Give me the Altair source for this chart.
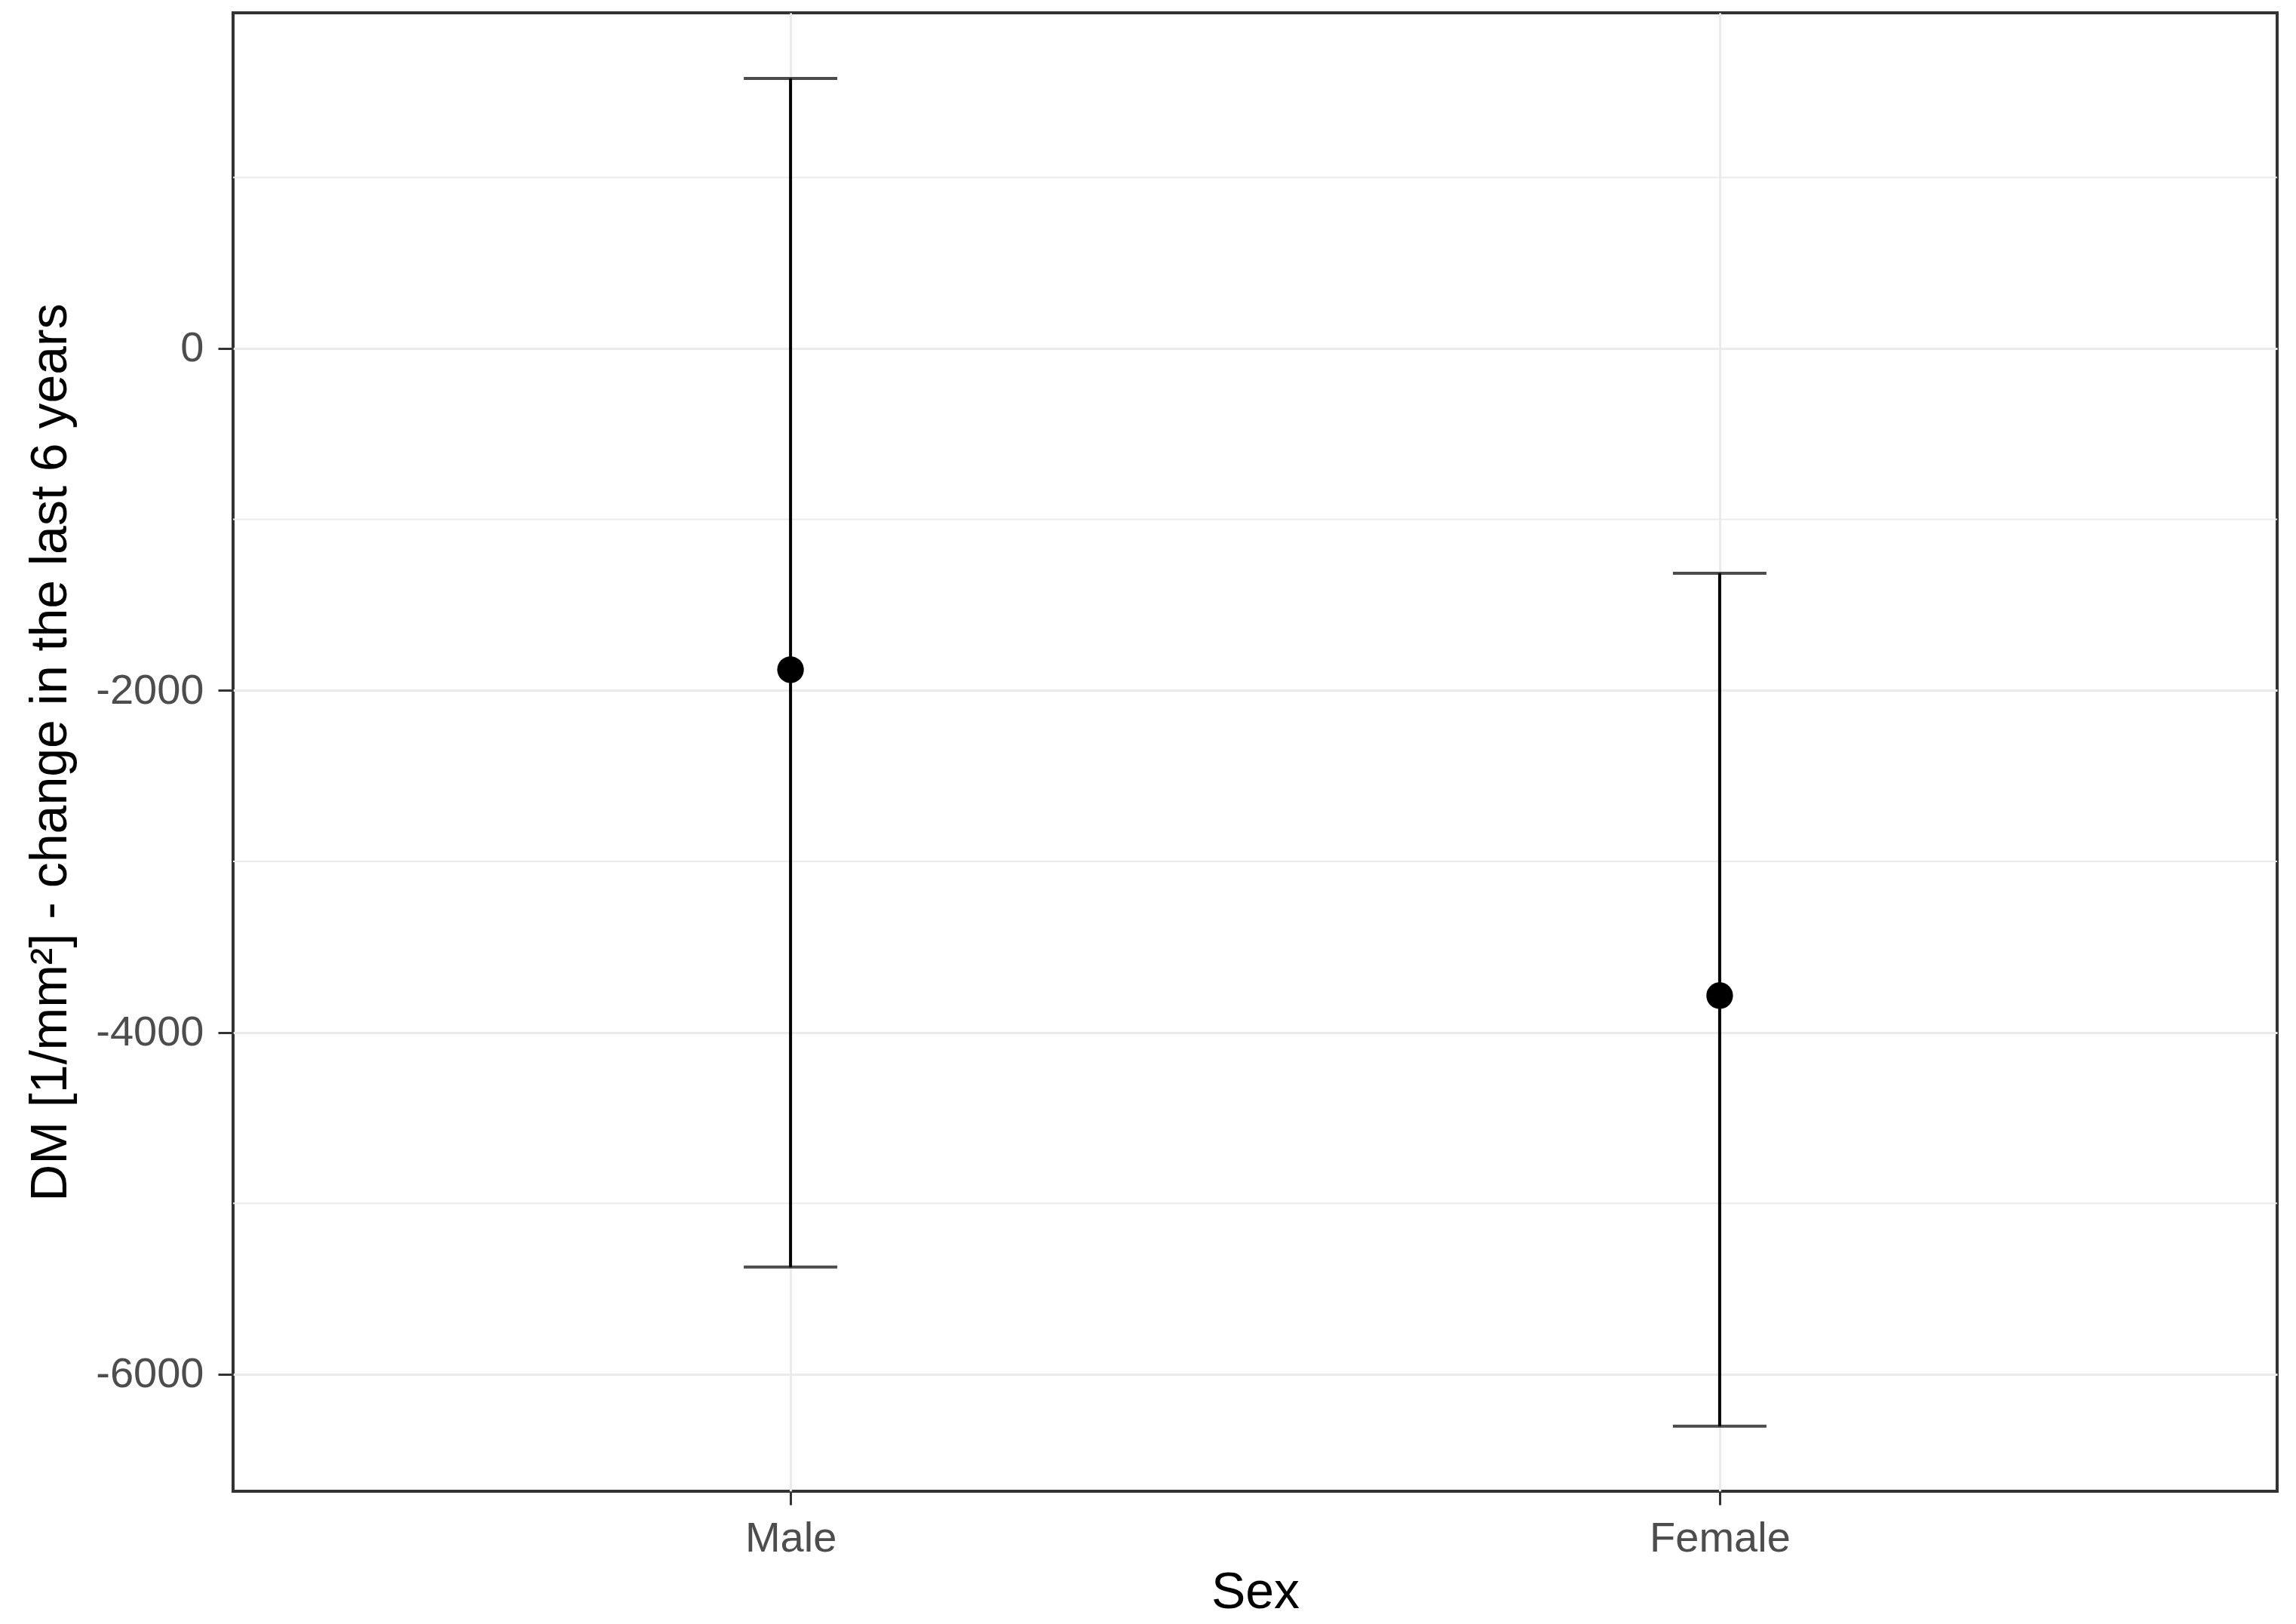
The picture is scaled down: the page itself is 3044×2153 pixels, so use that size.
import altair as alt
import pandas as pd

categories = ["Male", "Female"]
means = [-1879, -3785]
lower = [-5373, -6304]
upper = [1579, -1315]

y_ticks = [-6000, -4000, -2000, 0]
minor_breaks = [-5000, -3000, -1000, 1000]
y_domain = [-6684, 1963]

df = pd.DataFrame({"Sex": categories, "mean": means, "lo": lower, "hi": upper})
minor_df = pd.DataFrame({"v": minor_breaks})

FONT = "Liberation Sans"

xenc = alt.X(
    "Sex:N",
    sort=categories,
    scale=alt.Scale(type="point", padding=0.6),
    axis=alt.Axis(
        title="Sex",
        grid=True,
        gridColor="#EBEBEB",
        gridWidth=3,
        domain=False,
        ticks=True,
        tickSize=18,
        tickWidth=3,
        tickColor="#333333",
        labelFont=FONT,
        labelFontSize=56,
        labelColor="#4D4D4D",
        labelBaseline="alphabetic",
        labelPadding=61,
        labelAngle=0,
        labelLimit=0,
        titleFont=FONT,
        titleFontSize=68,
        titleFontWeight="normal",
        titleColor="#000000",
        titleBaseline="alphabetic",
        titleY=154,
    ),
)

yscale = alt.Scale(domain=y_domain, nice=False, zero=False)

minor = alt.Chart(minor_df).mark_rule(color="#EBEBEB", strokeWidth=2).encode(
    y=alt.Y("v:Q", scale=yscale)
)

yaxis = alt.Axis(
    title="DM [1/mm²] - change in the last 6 years",
    values=y_ticks,
    grid=True,
    gridColor="#EBEBEB",
    gridWidth=3,
    domain=False,
    ticks=True,
    tickSize=20,
    tickWidth=3,
    tickColor="#333333",
    labelFont=FONT,
    labelFontSize=56,
    labelColor="#4D4D4D",
    labelPadding=19,
    labelLimit=0,
    labelExpr="'' + datum.value",
    titleFont=FONT,
    titleFontSize=68,
    titleFontWeight="normal",
    titleColor="#000000",
    titleBaseline="alphabetic",
    titleX=-222,
)

base = alt.Chart(df)

rules = base.mark_rule(color="#000000", strokeWidth=4).encode(
    x=xenc,
    y=alt.Y("lo:Q", scale=yscale, axis=yaxis),
    y2="hi:Q",
)

caps_lo = base.mark_tick(color="#000000", size=124, thickness=4).encode(
    x=alt.X("Sex:N", sort=categories), y=alt.Y("lo:Q")
)
caps_hi = base.mark_tick(color="#000000", size=124, thickness=4).encode(
    x=alt.X("Sex:N", sort=categories), y=alt.Y("hi:Q")
)

points = base.mark_point(filled=True, color="#000000", size=1250, opacity=1).encode(
    x=alt.X("Sex:N", sort=categories), y=alt.Y("mean:Q")
)

chart = (
    alt.layer(minor, rules, caps_lo, caps_hi, points)
    .properties(
        width=2710,
        height=1960,
        autosize=alt.AutoSizeParams(type="none"),
        padding={"left": 301, "top": 9, "right": 17, "bottom": 168},
        background="white",
    )
    .configure_view(stroke="#333333", strokeWidth=4)
)

chart.save("out.html", embed_options={"renderer": "svg", "actions": False})
